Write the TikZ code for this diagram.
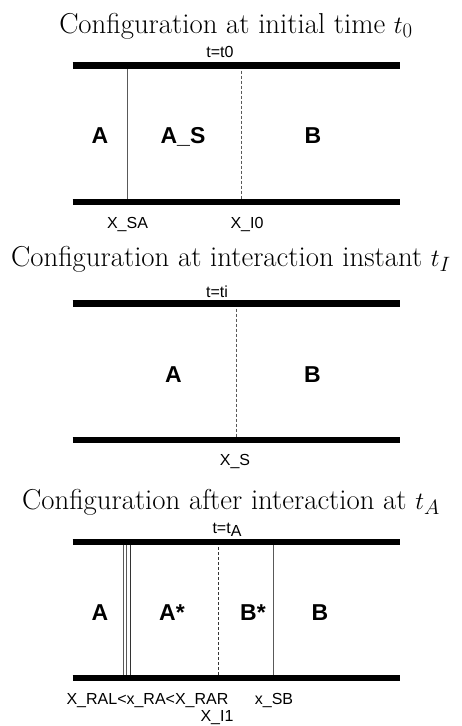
\documentclass[tikz,border=0pt]{standalone}
\usepackage{fontspec}
\setsansfont{Liberation Sans}
\usepackage{tikz}
\usetikzlibrary{positioning}
\tikzset{
  bar/.style={line width=6.5pt, line cap=butt},
  wall/.style={draw=black!65, line width=0.8pt},
  iface/.style={wall, dash pattern=on 3pt off 2pt},
  ttl/.style={anchor=base, inner sep=0pt, font=\fontsize{28.8}{32}\selectfont},
  lab/.style={anchor=base, inner sep=0pt, font=\sffamily\fontsize{16}{19}\selectfont},
  zone/.style={anchor=base, inner sep=0pt, font=\sffamily\bfseries\fontsize{23}{27}\selectfont},
  every picture/.style={line join=round}
}

\begin{document}
\begin{tikzpicture}[x=1pt, y=-1pt]
  \useasboundingbox (0,0) rectangle (462,726);

  % initial time
  \node[ttl] (title0) at (236,33) {Configuration at initial time $t_0$};
  \node[lab] (time0) at (220,57) {t=t0};
  \coordinate (top0l) at (72.5,65.5);
  \coordinate (top0r) at (399.5,65.5);
  \coordinate (bot0l) at (72.5,202);
  \coordinate (bot0r) at (399.5,202);
  \coordinate (sa0t) at (127,65.5);
  \coordinate (sa0b) at (127,202);
  \coordinate (i0t) at (241.5,65.5);
  \coordinate (i0b) at (241.5,202);
  \draw[wall] (sa0t) -- (sa0b);
  \draw[iface] (i0t) -- (i0b);
  \draw[bar] (top0l) -- (top0r);
  \draw[bar] (bot0l) -- (bot0r);
  \node[zone] (a0) at (100,143) {A};
  \node[zone] (as0) at (183,143) {A\_S};
  \node[zone] (b0) at (313,143) {B};
  \node[lab] (xsa) at (127.5,228) {X\_SA};
  \node[lab] (xi0) at (247,228) {X\_I0};

  % interaction instant
  \node[ttl] (title1) at (231,266) {Configuration at interaction instant $t_I$};
  \node[lab] (time1) at (217,297) {t=ti};
  \coordinate (top1l) at (72.5,303.5);
  \coordinate (top1r) at (399.5,303.5);
  \coordinate (bot1l) at (72.5,440);
  \coordinate (bot1r) at (399.5,440);
  \coordinate (s1t) at (236.7,303.5);
  \coordinate (s1b) at (236.7,440);
  \draw[iface] (s1t) -- (s1b);
  \draw[bar] (top1l) -- (top1r);
  \draw[bar] (bot1l) -- (bot1r);
  \node[zone] (a1) at (173.5,382) {A};
  \node[zone] (b1) at (312.5,382) {B};
  \node[lab] (xs) at (235,465) {X\_S};

  % after interaction
  \node[ttl] (title2) at (231,509) {Configuration after interaction at $t_A$};
  \node[lab] (time2) at (227,533) {t=t\raisebox{-3pt}{A}};
  \coordinate (top2l) at (72.5,542);
  \coordinate (top2r) at (399.5,542);
  \coordinate (bot2l) at (72.5,678);
  \coordinate (bot2r) at (399.5,678);
  \coordinate (ral2t) at (123.3,542);
  \coordinate (ral2b) at (123.3,678);
  \coordinate (ra2t) at (126.2,542);
  \coordinate (ra2b) at (126.2,678);
  \coordinate (rar2t) at (130,542);
  \coordinate (rar2b) at (130,678);
  \coordinate (i2t) at (218.3,542);
  \coordinate (i2b) at (218.3,678);
  \coordinate (sb2t) at (273.3,542);
  \coordinate (sb2b) at (273.3,678);
  \draw[wall, line width=0.6pt] (ral2t) -- (ral2b);
  \draw[wall, line width=0.6pt] (ra2t) -- (ra2b);
  \draw[wall, draw=black!80] (rar2t) -- (rar2b);
  \draw[iface, draw=black!80] (i2t) -- (i2b);
  \draw[wall] (sb2t) -- (sb2b);
  \draw[bar] (top2l) -- (top2r);
  \draw[bar] (bot2l) -- (bot2r);
  \node[zone] (a2) at (100,620) {A};
  \node[zone] (as2) at (172,620) {A*};
  \node[zone] (bs2) at (253,620) {B*};
  \node[zone] (b2) at (320,620) {B};
  \node[lab] (xra) at (147.5,704) {X\_RAL<x\_RA<X\_RAR};
  \node[lab] (xsb) at (274,704) {x\_SB};
  \node[lab] (xi1) at (217,721) {X\_I1};
\end{tikzpicture}
\end{document}
